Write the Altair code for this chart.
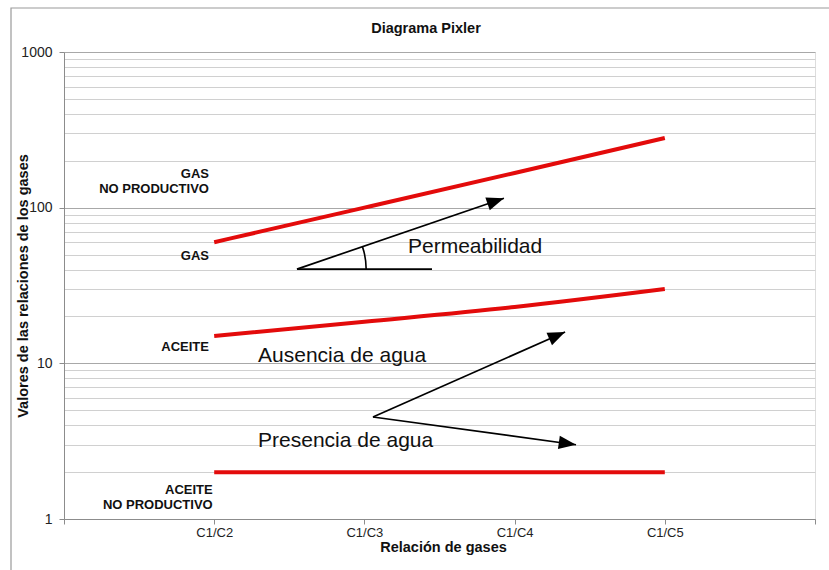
import json
import altair as alt
import pandas as pd

FONT = "Liberation Sans"
RED = "#e30b0b"

# Ratio categories along the x axis (placed at positions 1..4)
categories = ["C1/C2", "C1/C3", "C1/C4", "C1/C5"]

# Boundary curves of the Pixler diagram
gas = [60, 100, 167, 280]
aceite = [15, 18.5, 23, 30]
aceite_np = [2, 2, 2, 2]

# Zone labels on the left of the curves (y = first text line)
zone_text = ["GAS\nNO PRODUCTIVO", "GAS", "ACEITE", "ACEITE\nNO PRODUCTIVO"]
zone_x = [0.965, 0.965, 0.965, 0.99]
zone_y = [164, 49, 12.7, 1.535]

# Free annotations
note_text = ["Permeabilidad", "Ausencia de agua", "Presencia de agua"]
note_x = [2.29, 1.292, 1.292]
note_y = [51, 10.2, 2.9]

# Arrows: start point, tip and heading (degrees clockwise from up)
arrow_x0 = [1.551, 2.057, 2.057]
arrow_y0 = [40.3, 4.52, 4.52]
arrow_x1 = [2.929, 3.336, 3.409]
arrow_y1 = [115, 15.9, 3.0]
arrow_heading = [71, 66, 98]

# Horizontal reference for the permeability angle
base_x0, base_x1, base_y = 1.551, 2.45, 40.3

positions = list(range(1, len(categories) + 1))
series = pd.DataFrame(
    [{"pos": p, "serie": "gas", "value": v} for p, v in zip(positions, gas)]
    + [{"pos": p, "serie": "aceite", "value": v} for p, v in zip(positions, aceite)]
    + [{"pos": p, "serie": "aceite_np", "value": v} for p, v in zip(positions, aceite_np)]
)
zones = pd.DataFrame({"x": zone_x, "y": zone_y, "t": zone_text})
notes = pd.DataFrame({"x": note_x, "y": note_y, "t": note_text})
arrows = pd.DataFrame({"x": arrow_x0, "y": arrow_y0, "x2": arrow_x1,
                       "y2": arrow_y1, "a": arrow_heading})
base = pd.DataFrame({"x": [base_x0], "y": [base_y], "x2": [base_x1], "y2": [base_y]})

major_test = "indexof([1, 10, 100, 1000], datum.value) >= 0"
grid_values = [m * 10 ** e for e in range(3) for m in range(1, 10)] + [1000]
cat_js = json.dumps(categories)

xscale = alt.Scale(domain=[0, 5], nice=False, zero=False)
yscale = alt.Scale(type="log", domain=[1, 1000], nice=False)

xaxis = alt.Axis(
    values=[0, 1, 2, 3, 4, 5],
    labelExpr=f"datum.value >= 1 && datum.value <= 4 ? {cat_js}[datum.value - 1] : ''",
    grid=False, tickSize=5, tickColor="#8c8c8c", domainColor="#8c8c8c",
    labelFont=FONT, labelFontSize=13, labelColor="#222222", labelPadding=2,
    labelOverlap=False,
    title="Relación de gases", titleFont=FONT, titleFontSize=14.5,
    titleFontWeight="bold", titleColor="#111111",
    titleX=379, titleY=28, titleBaseline="middle",
)
yaxis = alt.Axis(
    values=grid_values, format="d",
    labelExpr=f"{major_test} ? datum.label : ''",
    labelOverlap=False, labelFont=FONT, labelFontSize=14, labelColor="#222222",
    labelPadding=7, tickSize=5,
    tickOpacity={"condition": {"test": major_test, "value": 1}, "value": 0},
    tickColor="#8c8c8c", domainColor="#8c8c8c",
    grid=True,
    gridColor={"condition": {"test": major_test, "value": "#a8a8a8"}, "value": "#d0d0d0"},
    gridWidth=1,
    title="Valores de las relaciones de los gases", titleFont=FONT,
    titleFontSize=14.5, titleFontWeight="bold", titleColor="#111111",
    titleX=-41, titleY=233.5, titleBaseline="middle",
)

lines = alt.Chart(series).mark_line(strokeWidth=4, color=RED, interpolate="monotone").encode(
    x=alt.X("pos:Q", scale=xscale, axis=xaxis),
    y=alt.Y("value:Q", scale=yscale, axis=yaxis),
    detail="serie:N",
)

zone_labels = alt.Chart(zones).mark_text(
    align="right", baseline="middle", font=FONT, fontSize=13, fontWeight="bold",
    color="#111111", lineBreak="\n", lineHeight=15,
).encode(x="x:Q", y="y:Q", text="t:N")

note_labels = alt.Chart(notes).mark_text(
    align="left", baseline="alphabetic", font=FONT, fontSize=21, color="#111111",
).encode(x="x:Q", y="y:Q", text="t:N")

arrow_lines = alt.Chart(arrows).mark_rule(color="black", strokeWidth=1.7).encode(
    x="x:Q", y="y:Q", x2="x2:Q", y2="y2:Q"
)
base_line = alt.Chart(base).mark_rule(color="black", strokeWidth=1.8).encode(
    x="x:Q", y="y:Q", x2="x2:Q", y2="y2:Q"
)
arrow_heads = alt.Chart(arrows).mark_point(
    shape="M0,0L0.78,2L-0.78,2Z", size=300, filled=True, color="black", opacity=1,
).encode(x="x2:Q", y="y2:Q", angle=alt.Angle("a:Q", scale=None))

angle_arc = alt.Chart(base).mark_arc(
    radius=70, radius2=68.4, theta=1.24, theta2=1.5708, color="black",
).encode(x="x:Q", y="y:Q")

# Outer border around the whole figure
frame = alt.Chart(alt.Data(values=[{}])).mark_rect(
    fill=None, stroke="#9a9a9a", strokeWidth=1.2,
).encode(x=alt.value(-53), y=alt.value(-44), x2=alt.value(900), y2=alt.value(700))

chart = alt.layer(
    frame, lines, base_line, angle_arc, arrow_lines, arrow_heads, zone_labels, note_labels
).properties(
    width=751, height=467,
    title=alt.TitleParams(
        "Diagrama Pixler", font=FONT, fontSize=14.5, fontWeight="bold",
        color="#111111", anchor="middle", frame="group", dx=-13.5, offset=18, dy=47,
    ),
    autosize=alt.AutoSizeParams(type="none"),
    padding={"left": 64, "top": 52, "right": 14, "bottom": 51},
).configure_view(stroke=None).configure(background="white")

chart.save("out.html", embed_options={"renderer": "svg", "actions": False})
